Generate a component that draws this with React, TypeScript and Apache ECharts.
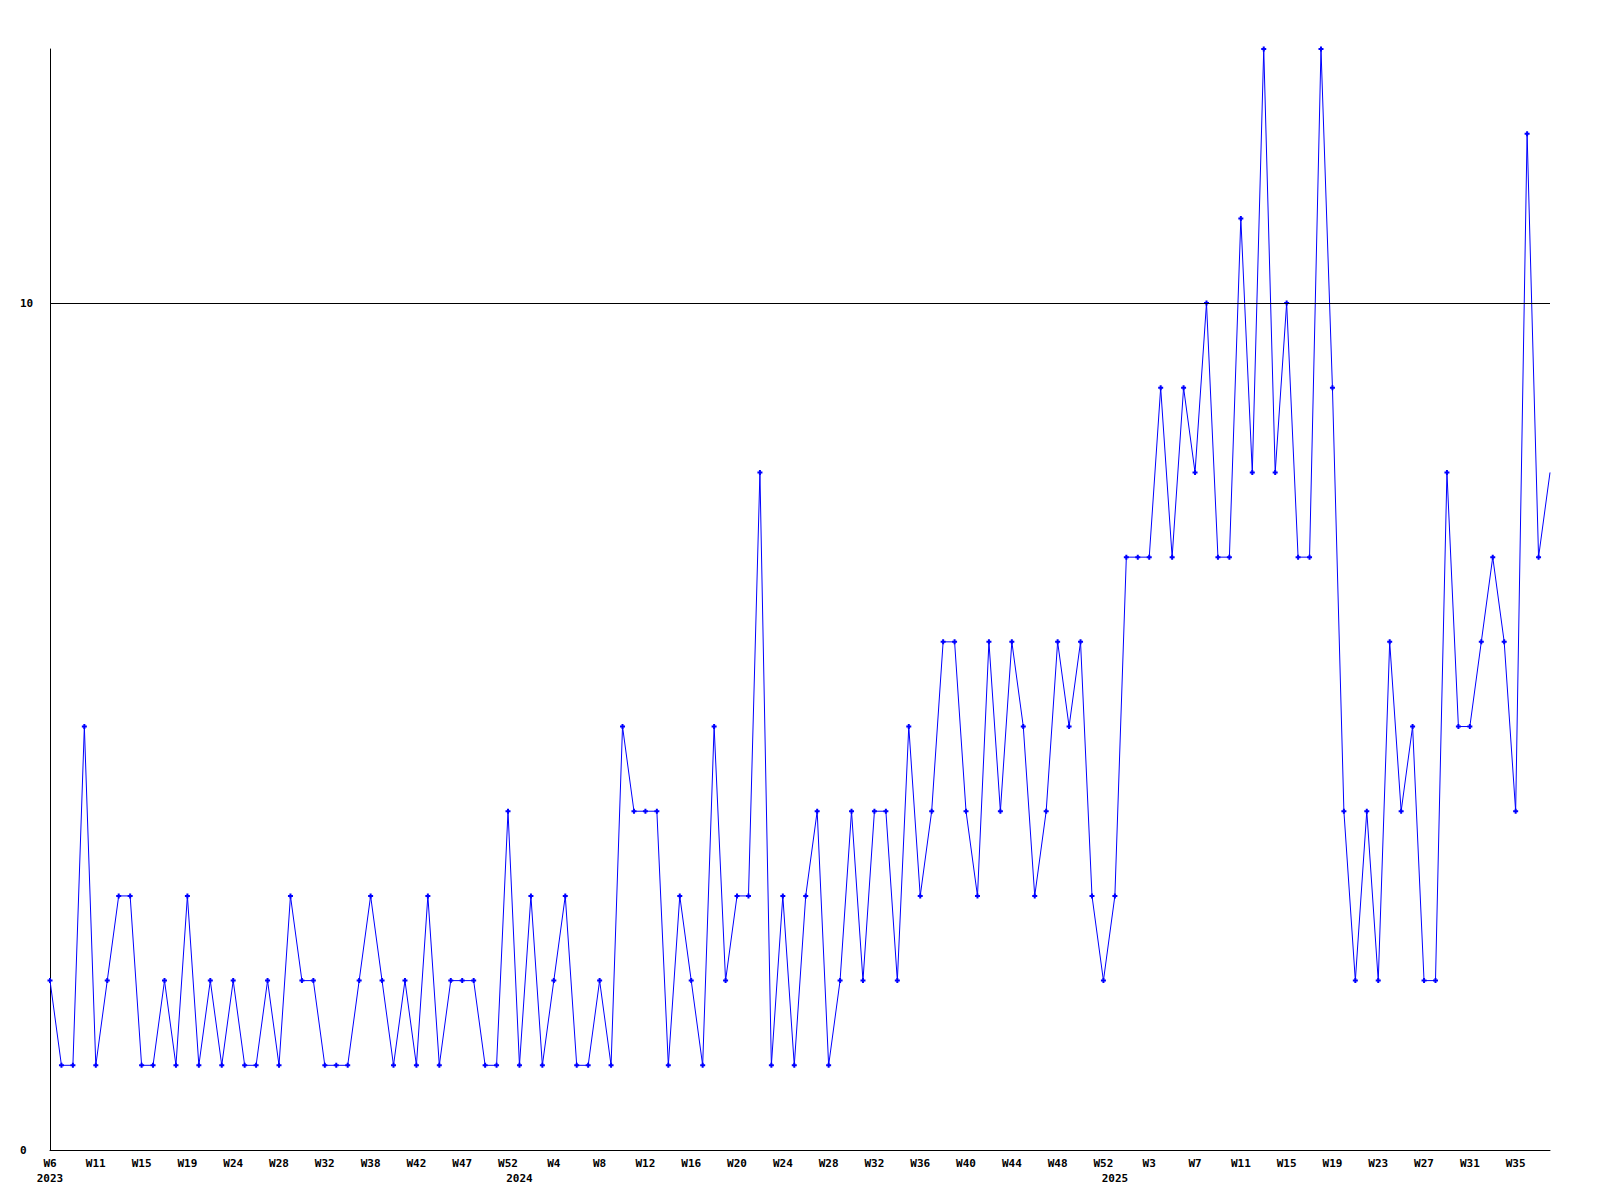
import React, { useEffect, useRef } from "react";
import * as echarts from "echarts";

// Values per point (132 points, weekly-ish samples)
const values: number[] = [
  2, 1, 1, 5, 1, 2, 3, 3, 1, 1, 2, 1, 3, 1, 2, 1, 2, 1, 1, 2,
  1, 3, 2, 2, 1, 1, 1, 2, 3, 2, 1, 2, 1, 3, 1, 2, 2, 2, 1, 1,
  4, 1, 3, 1, 2, 3, 1, 1, 2, 1, 5, 4, 4, 4, 1, 3, 2, 1, 5, 2,
  3, 3, 8, 1, 3, 1, 3, 4, 1, 2, 4, 2, 4, 4, 2, 5, 3, 4, 6, 6,
  4, 3, 6, 4, 6, 5, 3, 4, 6, 5, 6, 3, 2, 3, 7, 7, 7, 9, 7, 9,
  8, 10, 7, 7, 11, 8, 13, 8, 10, 7, 7, 13, 9, 4, 2, 4, 2, 6, 4, 5,
  2, 2, 8, 5, 5, 6, 7, 6, 4, 12, 7, 8,
];

// Week tick labels, one every 4 points
const weekLabels: string[] = [
  "W6", "W11", "W15", "W19", "W24", "W28", "W32", "W38", "W42", "W47", "W52",
  "W4", "W8", "W12", "W16", "W20", "W24", "W28", "W32", "W36", "W40", "W44", "W48", "W52",
  "W3", "W7", "W11", "W15", "W19", "W23", "W27", "W31", "W35",
];

// Year labels and the point index where each year starts
const yearLabels: string[] = ["2023", "2024", "2025"];
const yearStartIdx: number[] = [0, 41, 93];

const yTickLabels: number[] = [0, 10];
const yMax = 13;
const referenceLine = 10;

const FONT = "DejaVu Sans Mono";

export default function App() {
  const ref = useRef<HTMLDivElement>(null);

  useEffect(() => {
    if (!ref.current) return;
    const chart = echarts.init(ref.current, undefined, { renderer: "svg" });
    const categories = values.map((_, i) => String(i));
    const plus = "path://M1.5,0H3.5V1.5H5V3.5H3.5V5H1.5V3.5H0V1.5H1.5Z";

    const labelStyle = {
      fontFamily: FONT,
      fontWeight: "bold" as const,
      fontSize: 11,
      color: "#000",
    };

    chart.setOption({
      animation: false,
      backgroundColor: "#fff",
      grid: { left: 50, right: 50, top: 49, bottom: 50, containLabel: false },
      xAxis: [
        {
          type: "category",
          data: categories,
          boundaryGap: false,
          axisLine: { show: true, lineStyle: { color: "#000", width: 1 } },
          axisTick: { show: false },
          splitLine: { show: false },
          axisLabel: {
            ...labelStyle,
            interval: 3,
            margin: 8,
            formatter: (_v: string, i: number) =>
              i % 4 === 0 ? weekLabels[i / 4] ?? "" : "",
          },
        },
        {
          type: "category",
          data: categories,
          boundaryGap: false,
          position: "bottom",
          offset: 15,
          axisLine: { show: false },
          axisTick: { show: false },
          splitLine: { show: false },
          axisLabel: {
            ...labelStyle,
            margin: 8,
            interval: (i: number) => yearStartIdx.includes(i),
            formatter: (_v: string, i: number) => {
              const k = yearStartIdx.indexOf(i);
              return k >= 0 ? yearLabels[k] : "";
            },
          },
        },
      ],
      yAxis: {
        type: "value",
        min: 0,
        max: yMax,
        interval: 10,
        axisLine: { show: true, lineStyle: { color: "#000", width: 1 } },
        axisTick: { show: false },
        splitLine: { show: false },
        axisLabel: {
          ...labelStyle,
          align: "left",
          margin: 30,
          formatter: (v: number) => (yTickLabels.includes(v) ? String(v) : ""),
        },
      },
      series: [
        {
          type: "line",
          xAxisIndex: 0,
          data: values.map((v, i) =>
            i === values.length - 1 ? { value: v, symbol: "none" } : v
          ),
          symbol: plus,
          symbolSize: 5,
          showAllSymbol: true,
          itemStyle: { color: "#0000ff" },
          lineStyle: { color: "#0000ff", width: 1 },
          clip: false,
          markLine: {
            silent: true,
            symbol: ["none", "none"],
            label: { show: false },
            lineStyle: { color: "#000", width: 1, type: "solid" },
            data: [{ yAxis: referenceLine }],
          },
        },
      ],
    });

    return () => chart.dispose();
  }, []);

  return (
    <div
      ref={ref}
      style={{
        position: "fixed",
        left: 0,
        top: 0,
        width: 1600,
        height: 1200,
        background: "#fff",
      }}
    />
  );
}
